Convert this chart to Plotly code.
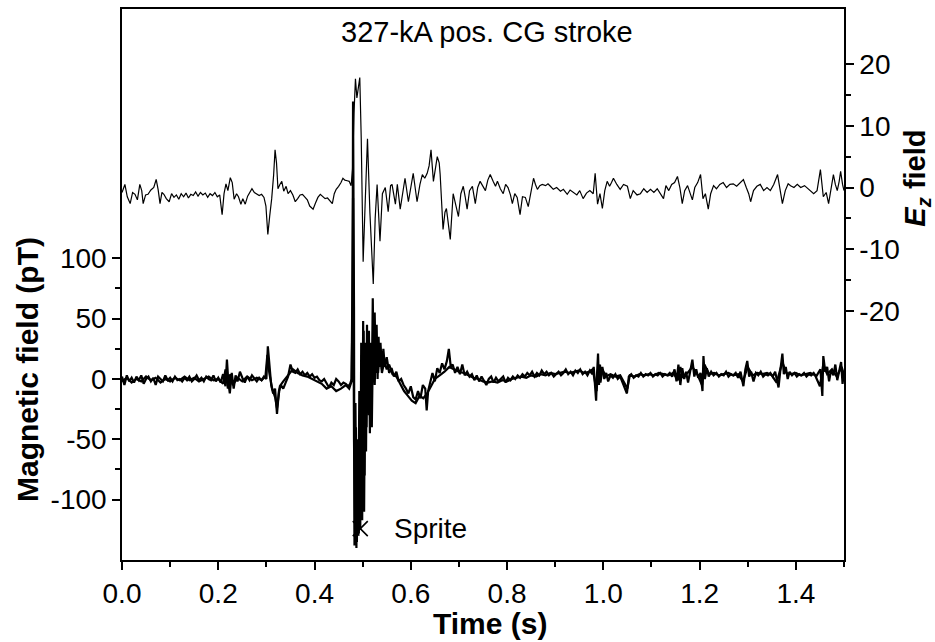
import plotly.graph_objects as go

# ---------------- data ----------------
# Vertical electric field (right axis)
e_time = [
    0.000, 0.006, 0.011, 0.017, 0.022, 0.027, 0.032, 0.037, 0.041, 0.044,
    0.049, 0.054, 0.060, 0.066, 0.071, 0.075, 0.079, 0.083, 0.087, 0.092,
    0.098, 0.103, 0.108, 0.113, 0.118, 0.123, 0.128, 0.133, 0.138, 0.143,
    0.148, 0.153, 0.158, 0.163, 0.168, 0.173, 0.178, 0.183, 0.188, 0.193,
    0.198, 0.203, 0.208, 0.212, 0.216, 0.220, 0.225, 0.229, 0.233, 0.238,
    0.242, 0.247, 0.251, 0.256, 0.261, 0.266, 0.270, 0.275, 0.280, 0.285,
    0.290, 0.295, 0.299, 0.303, 0.307, 0.311, 0.315, 0.318, 0.321, 0.324,
    0.328, 0.332, 0.336, 0.341, 0.345, 0.350, 0.355, 0.360, 0.365, 0.370,
    0.375, 0.380, 0.385, 0.390, 0.397, 0.402, 0.407, 0.412, 0.417, 0.422,
    0.427, 0.432, 0.437, 0.441, 0.445, 0.450, 0.455, 0.459, 0.463, 0.468,
    0.472, 0.476, 0.479, 0.482, 0.485, 0.488, 0.491, 0.494, 0.497, 0.501,
    0.505, 0.510, 0.515, 0.522, 0.526, 0.530, 0.536, 0.541, 0.547, 0.553,
    0.558, 0.561, 0.568, 0.572, 0.578, 0.583, 0.588, 0.595, 0.600, 0.605,
    0.609, 0.613, 0.619, 0.624, 0.629, 0.634, 0.638, 0.642, 0.647, 0.651,
    0.655, 0.659, 0.661, 0.667, 0.671, 0.674, 0.678, 0.682, 0.688, 0.693,
    0.699, 0.704, 0.709, 0.713, 0.717, 0.722, 0.728, 0.734, 0.739, 0.744,
    0.749, 0.755, 0.760, 0.765, 0.771, 0.776, 0.780, 0.786, 0.792, 0.797,
    0.802, 0.807, 0.811, 0.816, 0.821, 0.827, 0.832, 0.838, 0.844, 0.850,
    0.855, 0.859, 0.863, 0.868, 0.873, 0.880, 0.885, 0.890, 0.896, 0.903,
    0.911, 0.917, 0.925, 0.931, 0.938, 0.945, 0.951, 0.958, 0.965, 0.972,
    0.979, 0.983, 0.988, 0.993, 0.998, 1.003, 1.008, 1.013, 1.017, 1.021,
    1.028, 1.035, 1.042, 1.050, 1.056, 1.062, 1.070, 1.077, 1.084, 1.091,
    1.098, 1.105, 1.112, 1.118, 1.125, 1.130, 1.136, 1.142, 1.148, 1.154,
    1.159, 1.164, 1.169, 1.175, 1.180, 1.185, 1.190, 1.196, 1.202, 1.207,
    1.212, 1.218, 1.223, 1.229, 1.235, 1.242, 1.249, 1.256, 1.263, 1.270,
    1.277, 1.284, 1.291, 1.297, 1.302, 1.306, 1.312, 1.319, 1.326, 1.333,
    1.340, 1.347, 1.354, 1.362, 1.367, 1.372, 1.378, 1.384, 1.389, 1.396,
    1.403, 1.410, 1.418, 1.425, 1.432, 1.437, 1.444, 1.451, 1.457, 1.463,
    1.468, 1.473, 1.478, 1.482, 1.486, 1.490, 1.493, 1.497, 1.500,
]
e_field = [
    -0.8, 0.5, -1.5, -2.6, -0.8, -1.1, -2.0, 0.5, -0.5, -2.6,
    -1.2, -1.1, -0.4, 0.0, 1.3, -0.3, -2.6, -0.8, -1.1, -1.8,
    -2.3, -1.0, -1.6, -1.2, -1.9, -1.0, -1.5, -0.9, -1.7, -1.1,
    -1.3, -0.7, -1.4, -0.8, -1.2, -0.9, -1.6, -1.0, -1.3, -0.8,
    -1.5, -1.2, -4.4, -1.0, 0.6, -0.5, 1.6, 0.8, -1.9, -1.0,
    -1.5, -2.7, -1.8, -2.7, -1.4, -0.6, -0.2, -0.8, -1.1, -1.3,
    -1.1, -1.6, -3.0, -7.6, -4.5, -1.8, 2.0, 6.1, 4.0, -0.2,
    0.5, 1.0, -0.6, 0.2, -1.0, -0.5, -1.2, -2.3, -1.8, -1.2,
    -1.1, -1.5, -2.0, -3.0, -3.5, -2.5, -1.6, -1.1, -1.5, -1.8,
    -1.7, -2.2, -2.6, -1.0, -0.3, 0.2, 0.8, 1.5, 1.2, 1.1,
    1.0, 0.3, 3.0, 12.0, 17.6, 14.5, 16.0, 17.8, 8.0, -12.0,
    -3.0, 7.9, -4.0, -15.6, -5.0, 0.5, -8.7, -1.0, 0.0, -3.9,
    0.3, 0.5, -2.7, 0.5, -3.5, -1.0, 1.5, -2.3, 0.0, 2.3,
    0.0, -2.3, 0.5, 2.1, 1.5, 2.3, 3.5, 6.1, 1.0, 3.0,
    5.0, 4.0, 2.1, -6.8, -4.0, -3.4, -5.5, -8.4, -1.0, -2.5,
    -4.7, -1.0, 0.2, -1.5, -3.5, -0.5, 0.2, -2.6, 0.0, 1.0,
    0.2, -0.5, 1.2, 2.1, 1.0, 0.2, 1.0, -0.2, -1.0, 0.5,
    0.0, -1.2, -2.6, -1.0, -1.6, -4.4, -1.5, -1.6, -3.1, -0.5,
    1.5, 0.5, -0.3, 0.3, 0.5, 0.3, 0.6, 0.2, -0.3, 0.0,
    -0.6, -0.3, -1.1, -0.4, -0.8, -1.2, -0.5, -1.8, -0.9, -0.5,
    -1.0, 2.3, -2.7, -1.0, -3.4, -0.5, 1.0, 0.2, 0.8, 1.5,
    0.5, -0.3, 0.5, 0.2, -1.8, -0.5, -1.2, -1.0, -0.2, -0.8,
    -0.3, -0.8, -0.2, -1.0, -1.8, 0.3, -0.5, 0.5, 0.8, 1.8,
    0.0, -2.6, -0.5, 0.3, -0.8, -2.0, 0.0, 0.8, 2.1, -1.8,
    -1.0, -3.5, -1.0, 0.3, -0.2, 0.5, 0.8, 0.0, 0.5, 0.6,
    0.2, 0.8, 1.3, 0.0, -1.0, -2.3, -0.5, 0.2, 0.5, -0.5,
    0.0, -0.5, 0.5, 2.1, 0.0, -2.6, -0.5, 0.6, 0.3, 0.0,
    0.5, 0.0, 0.3, -0.2, -0.8, -1.0, -0.5, 2.9, -1.5, -0.8,
    -2.6, -0.5, 2.1, 0.5, -0.5, 1.0, 2.6, 0.5, -0.5,
]

# Magnetic field, first component (left axis, pT)
b1_time = [
    0.000, 0.005, 0.010, 0.015, 0.020, 0.025, 0.030, 0.035, 0.040, 0.045,
    0.050, 0.055, 0.060, 0.065, 0.070, 0.075, 0.080, 0.085, 0.090, 0.095,
    0.100, 0.105, 0.110, 0.115, 0.120, 0.125, 0.130, 0.135, 0.140, 0.145,
    0.150, 0.155, 0.160, 0.165, 0.170, 0.175, 0.180, 0.185, 0.190, 0.195,
    0.200, 0.205, 0.210, 0.215, 0.218, 0.221, 0.224, 0.228, 0.232, 0.236,
    0.240, 0.245, 0.250, 0.255, 0.260, 0.265, 0.270, 0.275, 0.280, 0.285,
    0.290, 0.295, 0.300, 0.303, 0.306, 0.310, 0.314, 0.318, 0.322, 0.326,
    0.330, 0.335, 0.340, 0.345, 0.350, 0.355, 0.360, 0.365, 0.370, 0.375,
    0.380, 0.385, 0.390, 0.395, 0.400, 0.405, 0.410, 0.415, 0.420, 0.425,
    0.430, 0.435, 0.440, 0.445, 0.450, 0.455, 0.460, 0.465, 0.470, 0.474,
    0.477, 0.479, 0.480, 0.482, 0.483, 0.485, 0.487, 0.489, 0.491, 0.493,
    0.495, 0.497, 0.499, 0.501, 0.503, 0.505, 0.507, 0.509, 0.511, 0.513,
    0.515, 0.517, 0.519, 0.521, 0.523, 0.525, 0.527, 0.529, 0.531, 0.533,
    0.535, 0.537, 0.540, 0.543, 0.546, 0.550, 0.555, 0.560, 0.565, 0.570,
    0.575, 0.580, 0.585, 0.590, 0.595, 0.600, 0.605, 0.610, 0.615, 0.620,
    0.625, 0.630, 0.633, 0.636, 0.640, 0.645, 0.650, 0.655, 0.660, 0.665,
    0.670, 0.675, 0.679, 0.683, 0.687, 0.692, 0.697, 0.702, 0.707, 0.712,
    0.717, 0.722, 0.727, 0.732, 0.737, 0.742, 0.747, 0.752, 0.757, 0.762,
    0.767, 0.772, 0.777, 0.782, 0.787, 0.792, 0.797, 0.802, 0.807, 0.812,
    0.817, 0.822, 0.827, 0.832, 0.837, 0.842, 0.847, 0.852, 0.857, 0.862,
    0.867, 0.872, 0.877, 0.882, 0.887, 0.892, 0.897, 0.902, 0.907, 0.912,
    0.917, 0.922, 0.927, 0.932, 0.937, 0.942, 0.947, 0.952, 0.957, 0.962,
    0.967, 0.972, 0.977, 0.980, 0.983, 0.985, 0.987, 0.989, 0.991, 0.993,
    0.995, 0.998, 1.002, 1.006, 1.010, 1.015, 1.020, 1.025, 1.030, 1.035,
    1.040, 1.045, 1.049, 1.053, 1.058, 1.063, 1.068, 1.073, 1.078, 1.083,
    1.088, 1.093, 1.098, 1.103, 1.108, 1.113, 1.118, 1.123, 1.128, 1.133,
    1.138, 1.143, 1.148, 1.152, 1.156, 1.160, 1.164, 1.168, 1.172, 1.176,
    1.180, 1.185, 1.189, 1.193, 1.197, 1.202, 1.206, 1.208, 1.211, 1.215,
    1.219, 1.224, 1.229, 1.235, 1.240, 1.245, 1.250, 1.255, 1.260, 1.265,
    1.270, 1.275, 1.280, 1.285, 1.291, 1.295, 1.299, 1.303, 1.307, 1.312,
    1.317, 1.322, 1.327, 1.332, 1.337, 1.342, 1.347, 1.352, 1.357, 1.361,
    1.364, 1.368, 1.372, 1.375, 1.379, 1.383, 1.387, 1.392, 1.397, 1.402,
    1.407, 1.412, 1.417, 1.422, 1.427, 1.432, 1.437, 1.442, 1.447, 1.451,
    1.455, 1.457, 1.461, 1.465, 1.469, 1.473, 1.478, 1.482, 1.486, 1.490,
    1.494, 1.497, 1.500,
]
b1_field = [
    2, -5, 3, -2, 1, -3, 2, -1, 3, -4,
    0, 2, -2, 1, -5, 2, 0, -2, 3, -1,
    1, -2, 2, -1, 0, -2, 1, -1, 2, -2,
    0, 3, -1, 1, -2, 2, 0, -1, 3, -2,
    1, -3, 4, -6, 16, -3, -12, 5, -8, 3,
    -2, 6, 1, -3, 2, -1, 3, 0, -2, 1,
    -1, 2, 0, 27, 12, -5, -12, -8, -29, -10,
    -5, -8, -3, 2, 12, 6, 5, 8, 4, 6,
    3, 5, 2, 4, 1, 2, -1, -2, 0, -4,
    -7, -3, -5, 0, -2, -5, -3, -4, -6, -4,
    0, 60, 230, 60, -138, -20, -140, -50, -130, -10,
    -125, 30, -117, 48, -110, 20, -60, 45, -20, 40,
    -45, 30, -10, 67, 0, 55, 5, 45, 0, 35,
    10, 30, 8, 25, 10, 18, 5, 9, 2, 6,
    -2, 0, -5, -8, -12, -6, -15, -17, -10, -16,
    -5, -8, -26, -10, -3, 5, -2, 9, 5, 13,
    8, 15, 25, 10, 12, 5, 10, 4, 12, 3,
    6, 2, 4, -1, 3, -2, 2, -1, -5, 0,
    2, -3, 1, -2, 0, 2, -3, 1, -1, 2,
    0, 3, 1, 4, 2, 5, 3, 6, 2, 5,
    3, 7, 4, 6, 3, 5, 2, 4, 6, 3,
    5, 8, 4, 6, 3, 7, 5, 8, 4, 6,
    3, 7, 4, 10, -4, -18, 5, 21, -5, 12,
    2, 10, 0, 5, -2, 3, 1, 4, 0, 2,
    -3, -8, -12, 2, 4, 1, 3, 2, 5, 2,
    4, 3, 5, 2, 4, 3, 5, 2, 4, 3,
    5, 2, 8, -2, 12, -5, 9, 0, 6, -3,
    7, 16, 2, 8, 1, 5, -10, 19, 0, 9,
    2, 6, 3, 5, 2, 4, 3, 6, 2, 4,
    3, 5, 1, 6, -6, 8, 15, 2, 6, -2,
    5, 3, 6, 2, 4, 3, 5, 2, 6, -3,
    -7, 8, 21, 4, 10, 0, 6, 3, 5, 2,
    4, 3, 5, 2, 4, 3, 5, 2, 6, 8,
    -14, 19, 6, 10, -2, 7, 3, 12, -1, 8,
    14, -4, 6,
]

# Magnetic field, second component (left axis, pT)
b2_time = [
    0.000, 0.010, 0.020, 0.030, 0.040, 0.050, 0.060, 0.070, 0.080, 0.090,
    0.100, 0.110, 0.120, 0.130, 0.140, 0.150, 0.160, 0.170, 0.180, 0.190,
    0.200, 0.210, 0.215, 0.220, 0.225, 0.230, 0.240, 0.250, 0.260, 0.270,
    0.280, 0.290, 0.298, 0.302, 0.306, 0.312, 0.318, 0.322, 0.328, 0.335,
    0.345, 0.355, 0.365, 0.375, 0.385, 0.395, 0.405, 0.415, 0.425, 0.435,
    0.445, 0.455, 0.465, 0.472, 0.477, 0.480, 0.482, 0.484, 0.486, 0.488,
    0.490, 0.492, 0.494, 0.496, 0.498, 0.500, 0.502, 0.504, 0.506, 0.508,
    0.510, 0.513, 0.516, 0.519, 0.522, 0.525, 0.528, 0.532, 0.536, 0.540,
    0.545, 0.550, 0.555, 0.562, 0.570, 0.578, 0.586, 0.594, 0.602, 0.610,
    0.618, 0.626, 0.634, 0.642, 0.650, 0.660, 0.670, 0.680, 0.690, 0.700,
    0.710, 0.720, 0.730, 0.740, 0.750, 0.760, 0.770, 0.780, 0.790, 0.800,
    0.810, 0.820, 0.830, 0.840, 0.850, 0.860, 0.870, 0.880, 0.890, 0.900,
    0.910, 0.920, 0.930, 0.940, 0.950, 0.960, 0.970, 0.978, 0.982, 0.986,
    0.990, 0.994, 0.998, 1.005, 1.015, 1.025, 1.035, 1.045, 1.050, 1.055,
    1.065, 1.075, 1.085, 1.095, 1.105, 1.115, 1.125, 1.135, 1.145, 1.155,
    1.160, 1.165, 1.175, 1.185, 1.195, 1.205, 1.210, 1.220, 1.230, 1.240,
    1.250, 1.260, 1.270, 1.280, 1.290, 1.300, 1.310, 1.320, 1.330, 1.340,
    1.350, 1.360, 1.372, 1.380, 1.390, 1.400, 1.410, 1.420, 1.430, 1.440,
    1.450, 1.457, 1.465, 1.475, 1.485, 1.495, 1.500,
]
b2_field = [
    -2, 1, -3, 0, -2, 2, -1, 1, -3, 0,
    -2, 1, -1, 2, -1, 1, -2, 0, 2, -1,
    0, -4, 8, -8, 4, -5, 1, -2, 2, -1,
    1, -1, 2, 20, 5, -8, -15, -24, -6, -2,
    3, 8, 5, 3, 2, 0, -2, -4, -8, -6,
    -10, -8, -5, -8, -2, 150, -50, -130, -40, -135,
    -70, -128, -30, -110, 20, -105, 40, -80, 30, -40,
    35, -30, 20, -40, 50, -5, 35, 5, 25, 5,
    15, 8, 12, 4, 2, -4, -10, -14, -18, -20,
    -14, -16, -12, -6, 0, 3, 6, 10, 8, 6,
    5, 3, 1, 0, -2, -3, -2, -3, -1, -2,
    0, 1, 2, 1, 3, 2, 4, 3, 5, 4,
    5, 6, 5, 6, 7, 5, 6, 8, -2, -10,
    12, -3, 8, 2, 4, 2, 3, -5, -8, 3,
    2, 4, 3, 4, 3, 5, 4, 3, 5, -1,
    10, 2, 5, 10, 4, -5, 12, 4, 5, 3,
    4, 5, 3, 4, -2, 10, 3, 5, 4, 5,
    3, -3, 14, 5, 4, 5, 3, 4, 5, 3,
    -6, 12, 4, 8, 2, 10, 4,
]

# Axis ticks and labels
x_ticks = [0.0, 0.2, 0.4, 0.6, 0.8, 1.0, 1.2, 1.4]
x_tick_labels = ["0.0", "0.2", "0.4", "0.6", "0.8", "1.0", "1.2", "1.4"]
x_minor = [0.1, 0.3, 0.5, 0.7, 0.9, 1.1, 1.3, 1.5]
b_ticks = [-100, -50, 0, 50, 100]
b_tick_labels = ["-100", "-50", "0", "50", "100"]
b_minor = [-75, -25, 25, 75]
e_ticks = [-20, -10, 0, 10, 20]
e_tick_labels = ["-20", "-10", "0", "10", "20"]
e_minor = [-15, -5, 5, 15]

sprite_time = 0.495
sprite_field = -124

title_text = "327-kA pos. CG stroke"
x_title = "Time (s)"
b_title = "Magnetic field (pT)"
e_title = "<b><i>E<sub>z</sub></i> field</b>"

# ---------------- figure ----------------
FONT = "Liberation Sans, Arial, Helvetica, sans-serif"

fig = go.Figure()
fig.add_trace(go.Scatter(x=b2_time, y=b2_field, mode="lines",
                         line=dict(color="black", width=2.2), yaxis="y"))
fig.add_trace(go.Scatter(x=b1_time, y=b1_field, mode="lines",
                         line=dict(color="black", width=2.2), yaxis="y"))
fig.add_trace(go.Scatter(x=e_time, y=e_field, mode="lines",
                         line=dict(color="black", width=1.2), yaxis="y2"))
fig.add_trace(go.Scatter(x=[sprite_time], y=[sprite_field], mode="markers",
                         marker=dict(symbol="x-thin", size=15,
                                     line=dict(width=1.6, color="black")),
                         yaxis="y"))

axis_common = dict(
    ticks="outside", ticklen=8, tickwidth=1.5, tickcolor="black",
    showline=True, linecolor="black", linewidth=1.5,
    showgrid=False, zeroline=False,
    tickfont=dict(family=FONT, size=28, color="black"),
)

fig.update_layout(
    width=935, height=642,
    margin=dict(l=122, r=91, t=7, b=82),
    paper_bgcolor="white", plot_bgcolor="white",
    showlegend=False,
    font=dict(family=FONT, size=28, color="black"),
    xaxis=dict(range=[0, 1.5], tickmode="array", tickvals=x_ticks,
               ticktext=x_tick_labels, mirror=True,
               minor=dict(tickmode="array", tickvals=x_minor, ticks="outside",
                          ticklen=5, tickwidth=1.5, tickcolor="black"),
               **axis_common),
    yaxis=dict(range=[-150, 306.6], tickmode="array", tickvals=b_ticks,
               ticktext=b_tick_labels, mirror=True,
               minor=dict(tickmode="array", tickvals=b_minor, ticks="outside",
                          ticklen=5, tickwidth=1.5, tickcolor="black"),
               **axis_common),
    yaxis2=dict(range=[-60.3, 28.9], tickmode="array", tickvals=e_ticks,
                ticktext=e_tick_labels, overlaying="y", side="right",
                minor=dict(tickmode="array", tickvals=e_minor, ticks="outside",
                           ticklen=5, tickwidth=1.5, tickcolor="black"),
                **axis_common),
    annotations=[
        dict(text=title_text, xref="paper", yref="paper", x=0.5055, y=0.958,
             xanchor="center", yanchor="middle", showarrow=False,
             font=dict(family=FONT, size=29, color="black")),
        dict(text="<b>" + b_title + "</b>", xref="paper", yref="paper",
             x=-0.130, y=0.345, xanchor="center", yanchor="middle",
             textangle=-90, showarrow=False,
             font=dict(family=FONT, size=30, color="black")),
        dict(text=e_title, xref="paper", yref="paper",
             x=1.1015, y=0.6926, xanchor="center", yanchor="middle",
             textangle=-90, showarrow=False,
             font=dict(family=FONT, size=29, color="black")),
        dict(text="<b>" + x_title + "</b>", xref="paper", yref="paper",
             x=0.5097, y=-0.116, xanchor="center", yanchor="middle",
             showarrow=False,
             font=dict(family=FONT, size=30, color="black")),
        dict(text="Sprite", xref="x", yref="y", x=0.561, y=sprite_field,
             xanchor="left", yanchor="middle", showarrow=False,
             font=dict(family=FONT, size=28, color="black")),
    ],
)

fig.write_html("out.html")
